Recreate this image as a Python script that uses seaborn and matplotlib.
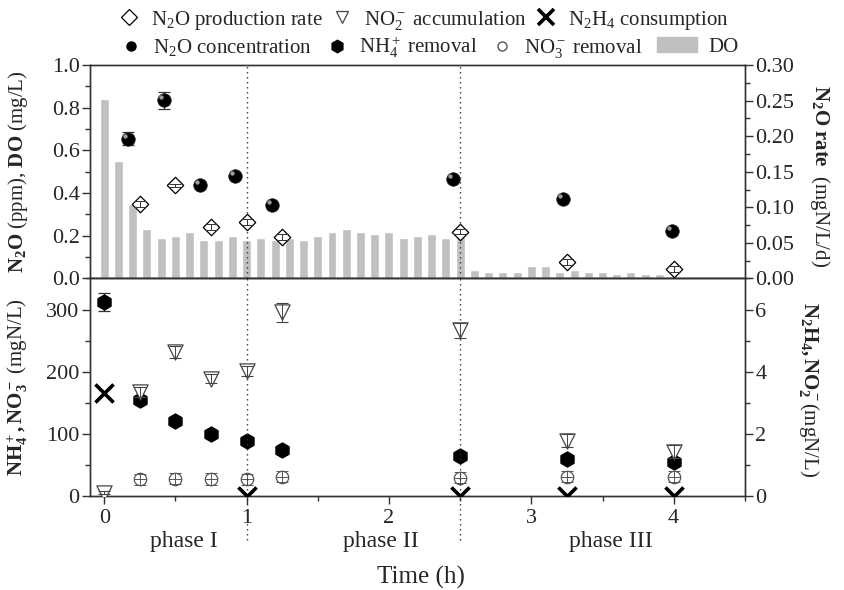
"""
N2O / DO / nitrogen species over one cycle (phase I-III)
Two stacked panels, each with a twin y-axis.
"""

import numpy as np
import matplotlib
matplotlib.use("Agg")
import matplotlib.pyplot as plt
import matplotlib.transforms as mtransforms
from matplotlib.lines import Line2D
from matplotlib.patches import Patch
from matplotlib.ticker import MultipleLocator, FormatStrFormatter
import seaborn as sns

sns.set_theme(style="ticks")
plt.rcParams["font.family"] = ["Liberation Serif", "DejaVu Serif"]
plt.rcParams["mathtext.fontset"] = "custom"
plt.rcParams["mathtext.rm"] = "Liberation Serif"
plt.rcParams["mathtext.it"] = "Liberation Serif:italic"
plt.rcParams["mathtext.bf"] = "Liberation Serif:bold"
plt.rcParams["axes.edgecolor"] = "#333333"
plt.rcParams["axes.linewidth"] = 1.0

# ============================================================
# DATA
# ============================================================
# DO (mg/L), one reading every 0.1 h
do_time = np.round(np.arange(0, 4.05, 0.1), 1)
do_conc = [0.84, 0.55, 0.35, 0.23, 0.19, 0.20, 0.22, 0.18, 0.18, 0.20,
           0.18, 0.19, 0.18, 0.19, 0.18, 0.20, 0.22, 0.23, 0.22, 0.21,
           0.22, 0.19, 0.20, 0.21, 0.19, 0.20, 0.04, 0.03, 0.03, 0.03,
           0.06, 0.06, 0.03, 0.04, 0.03, 0.03, 0.02, 0.03, 0.02, 0.02, 0.01]

# N2O concentration (ppm)
n2o_time = [0.17, 0.42, 0.67, 0.92, 1.18, 2.45, 3.22, 3.99]
n2o_ppm = [0.655, 0.835, 0.44, 0.48, 0.345, 0.465, 0.37, 0.222]
n2o_ppm_err = [0.03, 0.04, 0.01, 0.01, 0.01, 0.01, 0.008, 0.008]

# N2O production rate (mgN/L/d)
rate_time = [0.25, 0.5, 0.75, 1.0, 1.25, 2.5, 3.25, 4.0]
n2o_rate = [0.105, 0.131, 0.072, 0.079, 0.058, 0.066, 0.023, 0.0135]
n2o_rate_err = [0.004, 0.002, 0.004, 0.004, 0.004, 0.004, 0.004, 0.004]

# nitrogen species (mgN/L)
sample_time = [0, 0.25, 0.5, 0.75, 1.0, 1.25, 2.5, 3.25, 4.0]
nh4 = [312, 154, 120, 99.5, 88, 74, 65, 59.5, 55]
nh4_err = [14, 3, 3, 3, 3, 3, 3, 3, 3]
no2 = [0.1, 3.35, 4.64, 3.78, 4.02, 5.91, 5.33, 1.78, 1.43]
no2_err = [0.05, 0.15, 0.2, 0.15, 0.15, 0.3, 0.25, 0.2, 0.2]

no3_time = [0.25, 0.5, 0.75, 1.0, 1.25, 2.5, 3.25, 4.0]
no3 = [27, 28, 27.5, 27, 31, 29.5, 31, 31]
no3_err = [9, 9, 9, 9, 9, 9, 9, 9]

n2h4_time = [0, 1.0, 2.5, 3.25, 4.0]
n2h4 = [3.32, 0, 0, 0, 0]

phase_pos = [0.56, 1.94, 3.56]
phase_names = ["phase I", "phase II", "phase III"]
phase_breaks = [1.0, 2.5]

# ============================================================
# FIGURE
# ============================================================
fig = plt.figure(figsize=(8.45, 5.9), dpi=100)
ax_t = fig.add_axes([0.1065, 0.528, 0.775, 0.3618])
ax_b = fig.add_axes([0.1065, 0.1593, 0.775, 0.3687], sharex=ax_t)
ax_t2 = ax_t.twinx()
ax_b2 = ax_b.twinx()

BAR = "#c0c0c0"
TS = 16

# ---- top panel ----
sns.barplot(x=do_time, y=do_conc, native_scale=True, width=0.63, color=BAR,
            saturation=1, errorbar=None, ax=ax_t, zorder=1)

ax_t.errorbar(n2o_time, n2o_ppm, yerr=n2o_ppm_err, fmt="none", ecolor="#333333",
              elinewidth=0.9, capsize=4, capthick=0.9, zorder=3)
sns.scatterplot(x=n2o_time, y=n2o_ppm, marker="o", s=95, color="black",
                edgecolor="#222222", linewidth=0.5, ax=ax_t, zorder=4)
shine = mtransforms.offset_copy(ax_t.transData, fig=fig, x=-2.2, y=2.2, units="points")
ax_t.scatter(n2o_time, n2o_ppm, s=10, color="#9a9a9a", transform=shine, zorder=5, linewidths=0)

sns.scatterplot(x=rate_time, y=n2o_rate, marker="D", s=70, color="white",
                edgecolor="black", linewidth=0.9, ax=ax_t2, zorder=3)
ax_t2.errorbar(rate_time, n2o_rate, yerr=n2o_rate_err, fmt="none", ecolor="#333333",
               elinewidth=0.7, capsize=4, capthick=0.7, zorder=4)

# ---- bottom panel ----
ax_b.errorbar(sample_time, nh4, yerr=nh4_err, fmt="none", ecolor="#333333",
              elinewidth=0.9, capsize=4, capthick=0.9, zorder=2)
sns.scatterplot(x=sample_time, y=nh4, marker="h", s=120, color="black",
                edgecolor="black", ax=ax_b, zorder=3)

sns.scatterplot(x=no3_time, y=no3, marker="o", s=80, color="white",
                edgecolor="#555555", linewidth=0.9, ax=ax_b, zorder=3)
ax_b.errorbar(no3_time, no3, yerr=no3_err, fmt="none", ecolor="#555555",
              elinewidth=0.7, capsize=4, capthick=0.7, zorder=4)
ax_b.scatter(no3_time, no3, marker="_", s=80, color="#555555", linewidths=0.7, zorder=4)

sns.scatterplot(x=sample_time, y=no2, marker="v", s=120, color="white",
                edgecolor="#444444", linewidth=0.9, ax=ax_b2, zorder=3)
ax_b2.errorbar(sample_time, no2, yerr=no2_err, fmt="none", ecolor="#444444",
               elinewidth=0.7, capsize=4, capthick=0.8, zorder=4)
sns.scatterplot(x=n2h4_time, y=n2h4, marker="x", s=170, color="black",
                linewidth=2.6, ax=ax_b2, zorder=5)

# phase separators
for xb in phase_breaks:
    ax_t.axvline(xb, color="#333333", lw=1.0, ls=(0, (1, 2.6)), zorder=6)
    ax_b.axvline(xb, ymin=-0.2, ymax=1, color="#333333", lw=1.0, ls=(0, (1, 2.6)),
                 clip_on=False, zorder=6)

# ---- axes formatting ----
ax_t.set_xlim(-0.1, 4.5)
ax_t.set_ylim(0, 1.0)
ax_t2.set_ylim(0, 0.30)
ax_b.set_ylim(0, 350)
ax_b2.set_ylim(0, 7.0)

ax_b.xaxis.set_major_locator(MultipleLocator(1))
ax_b.xaxis.set_minor_locator(MultipleLocator(0.5))
ax_b.xaxis.set_major_formatter(FormatStrFormatter("%d"))
ax_t.yaxis.set_major_locator(MultipleLocator(0.2))
ax_t.yaxis.set_minor_locator(MultipleLocator(0.1))
ax_t.yaxis.set_major_formatter(FormatStrFormatter("%.1f"))
ax_t2.yaxis.set_major_locator(MultipleLocator(0.05))
ax_t2.yaxis.set_minor_locator(MultipleLocator(0.025))
ax_t2.yaxis.set_major_formatter(FormatStrFormatter("%.2f"))
ax_b.yaxis.set_major_locator(MultipleLocator(100))
ax_b.yaxis.set_minor_locator(MultipleLocator(50))
ax_b2.yaxis.set_major_locator(MultipleLocator(2))
ax_b2.yaxis.set_minor_locator(MultipleLocator(1))

for a in (ax_t, ax_t2, ax_b, ax_b2):
    a.tick_params(which="major", direction="out", length=6, width=1, labelsize=TS,
                  color="#333333", pad=1.5)
    a.tick_params(which="minor", direction="out", length=3.5, width=1, color="#333333")
ax_t.tick_params(axis="x", which="both", bottom=False, labelbottom=False)
ax_t2.tick_params(axis="x", which="both", bottom=False, labelbottom=False)
ax_b.tick_params(axis="x", which="major", pad=3)

ax_t.set_xlabel("")
ax_b.set_xlabel("Time (h)", fontsize=18)
ax_b.xaxis.set_label_coords(0.505, -0.32)

ax_t.set_ylabel(r"$\mathbf{N_2O}$ (ppm), $\mathbf{DO}$ (mg/L)", fontsize=15)
ax_t.yaxis.set_label_coords(-0.092, 0.5)
ax_t2.set_ylabel(r"$\mathbf{N_2O\ rate}$  (mgN/L/d)", fontsize=15, rotation=270, va="center")
ax_t2.yaxis.set_label_coords(1.115, 0.48)
ax_b.set_ylabel(r"$\mathbf{NH_4^+, NO_3^-}$ (mgN/L)", fontsize=15)
ax_b.yaxis.set_label_coords(-0.092, 0.5)
ax_b2.set_ylabel(r"$\mathbf{N_2H_4, NO_2^-}$(mgN/L)", fontsize=15, rotation=270, va="center")
ax_b2.yaxis.set_label_coords(1.098, 0.49)

for xp, name in zip(phase_pos, phase_names):
    ax_b.text(xp, -0.21, name, transform=ax_b.get_xaxis_transform(), ha="center",
              va="center", fontsize=17)

# ---- legend (two rows above the plot) ----
row1 = [
    Line2D([], [], ls="none", marker="D", ms=8, mfc="white", mec="black", mew=0.9),
    Line2D([], [], ls="none", marker="v", ms=9, mfc="white", mec="#444444", mew=0.9),
    Line2D([], [], ls="none", marker="x", ms=11, mec="black", mew=2.6),
]
row1_labels = [r"N$_2$O production rate", r"NO$_2^-$ accumulation", r"N$_2$H$_4$ consumption"]
row2 = [
    Line2D([], [], ls="none", marker="o", ms=6.5, mfc="black", mec="black"),
    Line2D([], [], ls="none", marker="h", ms=9, mfc="black", mec="black"),
    Line2D([], [], ls="none", marker="o", ms=6.5, mfc="white", mec="#444444", mew=0.9),
]
row2_labels = [r"N$_2$O concentration", r"NH$_4^+$ removal", r"NO$_3^-$ removal"]

leg_kw = dict(frameon=False, fontsize=15, borderpad=0, borderaxespad=0,
              handletextpad=0.55, loc="center left")
fig.legend(row1, row1_labels, ncol=3, handlelength=1.0, columnspacing=0.45,
           bbox_to_anchor=(0.14, 0.966), **leg_kw)
fig.legend(row2, row2_labels, ncol=3, handlelength=1.0, columnspacing=0.7,
           bbox_to_anchor=(0.143, 0.92), **leg_kw)
fig.legend([Patch(color=BAR)], ["DO"], handlelength=1.9, handleheight=0.7,
           bbox_to_anchor=(0.778, 0.92), **leg_kw)

fig.savefig("out.png", dpi=100)
